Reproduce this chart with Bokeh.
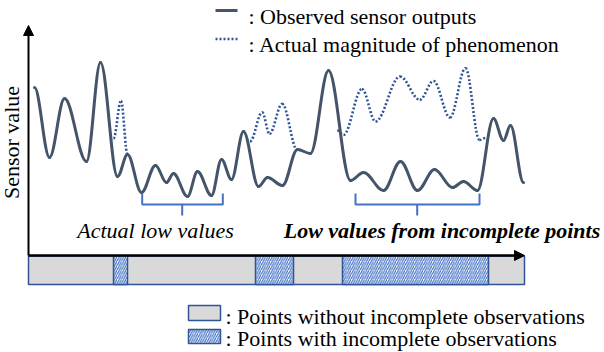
import numpy as np
from bokeh.plotting import figure
from bokeh.models import Range1d, Arrow, NormalHead
from bokeh.core.properties import value
from bokeh.embed import file_html
from bokeh.resources import INLINE

# ---- data (time index, sensor value) ----
obs_t = [6, 21, 36, 58, 72, 89, 99, 113, 127, 138, 145, 159, 169, 183, 193, 203, 215, 230,
         239, 254, 269, 282, 300, 322, 335, 355, 372, 389, 406, 424, 435, 449, 465, 475, 482, 495]
obs_v = [169, 99, 158, 95, 194, 80, 102, 64, 91, 74, 83, 60, 85, 61, 97, 77, 125, 70,
         79, 71, 107, 103, 186, 76, 84, 66, 95, 66, 87, 69, 75, 66, 138, 116, 131, 74]

act1_t = [85, 92.5, 99]
act1_v = [118, 155.5, 102]
act2_t = [221.5, 233.7, 241, 253.7, 268.7]
act2_v = [115, 144.3, 122.7, 152.7, 106.7]
act3_t = [308.7, 315, 333.5, 347, 371.5, 391.3, 405, 421.5, 437, 451, 458.5]
act3_v = [126, 121.5, 167.5, 135, 180, 156.7, 175.5, 139, 188.5, 116.5, 119]

timeline_end = 496
incomplete_start = [85, 227, 314]
incomplete_end = [99, 265, 460]

brace_left = [113.7, 327]
brace_right = [194.3, 451]
brace_mid = [153.7, 388.7]
brace_labels = ["Actual low values", "Low values from incomplete points"]
brace_label_x = [127, 413.5]
brace_label_style = ["italic", "bold italic"]

legend_top = [": Observed sensor outputs", ": Actual magnitude of phenomenon"]
legend_bottom = [": Points without incomplete observations", ": Points with incomplete observations"]

OBS_C = "#44546a"
ACT_C = "#2f5597"
BR_C = "#4472c4"
FONT = value("Liberation Serif")
FS = "22px"

p = figure(width=604, height=352, x_range=Range1d(-28, 576), y_range=Range1d(-96, 256),
           output_backend="svg", toolbar_location=None, min_border=0,
           x_axis_type=None, y_axis_type=None)
p.grid.visible = False
p.outline_line_color = None


def smooth(xs, ys, **kw):
    xs = np.asarray(xs, float)
    ys = np.asarray(ys, float)
    x0, x1, y0, y1 = xs[:-1], xs[1:], ys[:-1], ys[1:]
    k = 0.36
    p.bezier(x0=x0, y0=y0, x1=x1, y1=y1,
             cx0=x0 + k * (x1 - x0), cy0=y0,
             cx1=x1 - k * (x1 - x0), cy1=y1, **kw)


hatch_kw = dict(fill_color="white", hatch_pattern="/", hatch_color=BR_C, hatch_scale=4.5,
                hatch_weight=1.2, line_color=ACT_C, line_width=1.5)

# timeline bar
p.quad(left=[0], right=[timeline_end], top=[0.5], bottom=[-28],
       fill_color="#d9d9d9", line_color=ACT_C, line_width=1.5)
p.quad(left=incomplete_start, right=incomplete_end, top=0.5, bottom=-28, **hatch_kw)

# axes arrows
p.add_layout(Arrow(end=NormalHead(size=10, fill_color="black", line_color="black", line_width=1),
                   x_start=0, y_start=1, x_end=0, y_end=231, line_width=2, line_color="black"))
p.add_layout(Arrow(end=NormalHead(size=10, fill_color="black", line_color="black", line_width=1),
                   x_start=0, y_start=1, x_end=timeline_end, y_end=1, line_width=2.5, line_color="black"))

# curves
dot_kw = dict(line_color=ACT_C, line_width=2.6, line_dash="2 2")
for tt, vv in [(act1_t, act1_v), (act2_t, act2_v), (act3_t, act3_v)]:
    smooth(tt, vv, **dot_kw)
smooth(obs_t, obs_v, line_color=OBS_C, line_width=3, line_cap="round")

# braces
for l, r, m in zip(brace_left, brace_right, brace_mid):
    p.line(x=[l, l, r, r], y=[63, 52, 52, 63], line_color=BR_C, line_width=2)
    p.line(x=[m, m], y=[52, 41], line_color=BR_C, line_width=2)
for lx, lab, st in zip(brace_label_x, brace_labels, brace_label_style):
    p.text(x=[lx], y=[26], text=[lab], text_font=FONT, text_font_size=FS,
           text_font_style=st, text_align="center", text_baseline="alphabetic", text_color="black")

# y label
p.text(x=[-17], y=[114], text=["Sensor value"], angle=np.pi / 2, text_font=FONT,
       text_font_size=FS, text_align="center", text_baseline="middle", text_color="black")

# top legend
p.line(x=[187, 209], y=[246, 246], line_color=OBS_C, line_width=3)
p.line(x=[187, 209], y=[217.5, 217.5], **dot_kw)
p.text(x=[220, 220], y=[240, 212.5], text=legend_top, text_font=FONT, text_font_size=FS,
       text_align="left", text_baseline="alphabetic", text_color="black")

# bottom legend
p.quad(left=[160], right=[192], top=[-49], bottom=[-64], fill_color="#d9d9d9",
       line_color=ACT_C, line_width=1.5)
p.quad(left=[160], right=[192], top=[-73], bottom=[-87], **hatch_kw)
p.text(x=[197, 197], y=[-60, -82], text=legend_bottom, text_font=FONT, text_font_size=FS,
       text_align="left", text_baseline="alphabetic", text_color="black")

open("out.html", "w").write(file_html(p, INLINE))
